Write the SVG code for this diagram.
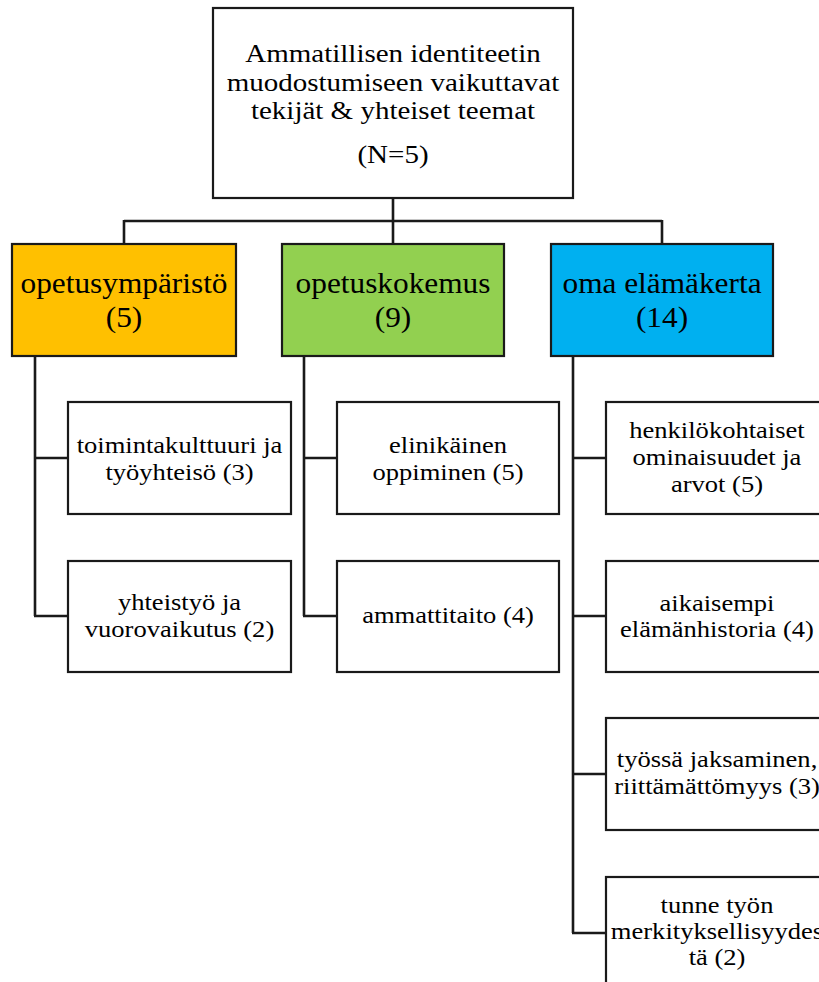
<svg xmlns="http://www.w3.org/2000/svg" width="819" height="982" viewBox="0 0 819 982">
<style>
.bx{stroke:#1a1a1a;stroke-width:2.2;fill:#fff}
.o{fill:#FFC000}.g{fill:#92D050}.b{fill:#00B0F0}
.c{stroke:#1a1a1a;stroke-width:2.6;fill:none}
text{font-family:"Liberation Serif","Times New Roman",serif;fill:#000;text-anchor:middle}
.t0{font-size:25px}.t1{font-size:29px}.t2{font-size:23.5px}
</style>
<rect width="819" height="982" fill="#fff"/>
<g id="connectors">
<path class="c" d="M393,198V244M124,221H662M124,220V244M662,220V244"/>
<path class="c" d="M35,356V616M34,458H68M34,616H68"/>
<path class="c" d="M304,356V616M303,458H337M303,616H337"/>
<path class="c" d="M573,356V933M572,458H606M572,616H606M572,774H606M572,933H606"/>
</g>
<g id="root">
<rect class="bx" x="213" y="8" width="360" height="190"/>
<g class="t0" transform="translate(393,0) scale(1.16,1)">
<text x="0" y="62">Ammatillisen identiteetin</text>
<text x="0" y="91">muodostumiseen vaikuttavat</text>
<text x="0" y="119">tekijät &amp; yhteiset teemat</text>
<text x="0" y="163">(N=5)</text>
</g>
</g>
<g id="opetusymparisto">
<rect class="bx o" x="12" y="244" width="224" height="112"/>
<g class="t1" transform="translate(124,0) scale(1.08,1)">
<text x="0" y="293">opetusympäristö</text>
<text x="0" y="327">(5)</text>
</g>
</g>
<g id="opetuskokemus">
<rect class="bx g" x="282" y="244" width="222" height="112"/>
<g class="t1" transform="translate(393,0) scale(1.08,1)">
<text x="0" y="293">opetuskokemus</text>
<text x="0" y="327">(9)</text>
</g>
</g>
<g id="omaelamakerta">
<rect class="bx b" x="551" y="244" width="222" height="112"/>
<g class="t1" transform="translate(662,0) scale(1.08,1)">
<text x="0" y="293">oma elämäkerta</text>
<text x="0" y="327">(14)</text>
</g>
</g>
<g id="toimintakulttuuri">
<rect class="bx" x="68" y="402" width="223" height="112"/>
<g class="t2" transform="translate(179.5,0) scale(1.13,1)">
<text x="0" y="453">toimintakulttuuri ja</text>
<text x="0" y="480">työyhteisö (3)</text>
</g>
</g>
<g id="yhteistyo">
<rect class="bx" x="68" y="561" width="223" height="111"/>
<g class="t2" transform="translate(179.5,0) scale(1.13,1)">
<text x="0" y="610">yhteistyö ja</text>
<text x="0" y="637">vuorovaikutus (2)</text>
</g>
</g>
<g id="elinikainen">
<rect class="bx" x="337" y="402" width="222" height="112"/>
<g class="t2" transform="translate(448,0) scale(1.13,1)">
<text x="0" y="453">elinikäinen</text>
<text x="0" y="480">oppiminen (5)</text>
</g>
</g>
<g id="ammattitaito">
<rect class="bx" x="337" y="561" width="222" height="111"/>
<g class="t2" transform="translate(448,0) scale(1.13,1)">
<text x="0" y="623">ammattitaito (4)</text>
</g>
</g>
<g id="henkilokohtaiset">
<rect class="bx" x="606" y="402" width="222" height="112"/>
<g class="t2" transform="translate(717,0) scale(1.13,1)">
<text x="0" y="438">henkilökohtaiset</text>
<text x="0" y="465">ominaisuudet ja</text>
<text x="0" y="492">arvot (5)</text>
</g>
</g>
<g id="aikaisempi">
<rect class="bx" x="606" y="561" width="222" height="111"/>
<g class="t2" transform="translate(717,0) scale(1.13,1)">
<text x="0" y="611">aikaisempi</text>
<text x="0" y="637">elämänhistoria (4)</text>
</g>
</g>
<g id="tyossajaksaminen">
<rect class="bx" x="606" y="718" width="222" height="112"/>
<g class="t2" transform="translate(717,0) scale(1.13,1)">
<text x="0" y="767">työssä jaksaminen,</text>
<text x="0" y="794">riittämättömyys (3)</text>
</g>
</g>
<g id="tunnetyon">
<rect class="bx" x="606" y="877" width="222" height="112"/>
<g class="t2" transform="translate(717,0) scale(1.13,1)">
<text x="0" y="913">tunne työn</text>
<text x="0" y="939">merkityksellisyydes</text>
<text x="0" y="965">tä (2)</text>
</g>
</g>
</svg>
